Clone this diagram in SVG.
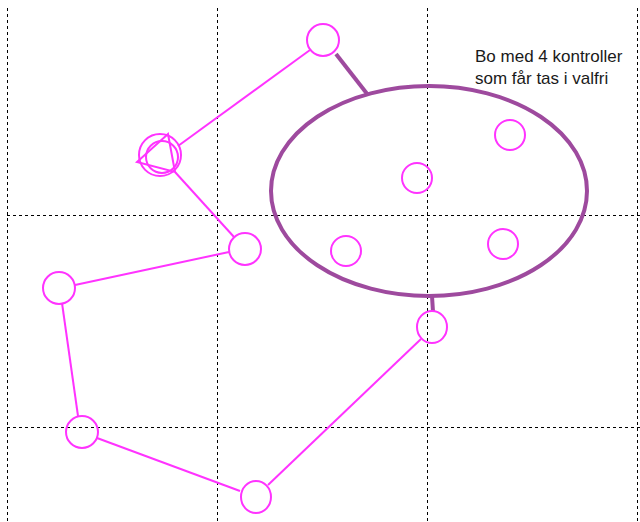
<svg xmlns="http://www.w3.org/2000/svg" width="640" height="522" viewBox="0 0 640 522">
<style>
.grid{stroke:#000;stroke-width:1;stroke-dasharray:3,3;fill:none}
.node{fill:none;stroke:#FF33FF;stroke-width:2}
.leg{stroke:#FF33FF;stroke-width:2;fill:none}
.bo{fill:none;stroke:#9E4A9E;stroke-width:4}
.lbl{font-family:"Liberation Sans",Arial,sans-serif;font-size:17px;fill:#1a1a1a}
</style>
<rect width="640" height="522" fill="#fff"/>
<g id="grid">
<line class="grid" x1="7.5" y1="8" x2="7.5" y2="522"/>
<line class="grid" x1="217.5" y1="8" x2="217.5" y2="522"/>
<line class="grid" x1="427.5" y1="8" x2="427.5" y2="522"/>
<line class="grid" x1="637.5" y1="8" x2="637.5" y2="522"/>
<line class="grid" x1="7" y1="215.5" x2="640" y2="215.5"/>
<line class="grid" x1="7" y1="427.5" x2="640" y2="427.5"/>
</g>
<g id="connectors">
<line class="leg" x1="178" y1="146" x2="310" y2="50"/>
<line class="leg" x1="175" y1="172" x2="234" y2="237"/>
<line class="leg" x1="229" y1="252" x2="75" y2="285"/>
<line class="leg" x1="62" y1="303" x2="78" y2="416"/>
<line class="leg" x1="97" y1="438" x2="240" y2="491"/>
<line class="leg" x1="268" y1="485" x2="421" y2="339"/>
<line class="bo" x1="336" y1="54" x2="368" y2="95"/>
<line class="bo" x1="432" y1="296" x2="433" y2="312"/>
</g>
<g id="start">
<circle class="node" cx="160" cy="155" r="21"/>
<circle class="node" cx="162" cy="157" r="16"/>
<polygon class="node" points="168,134 137,162 175,172"/>
</g>
<g id="n1"><ellipse class="node" cx="323" cy="40" rx="16" ry="16"/></g>
<g id="n2"><ellipse class="node" cx="245" cy="249" rx="16" ry="16"/></g>
<g id="n3"><ellipse class="node" cx="59" cy="288" rx="16" ry="16"/></g>
<g id="n4"><ellipse class="node" cx="82" cy="432" rx="16" ry="16"/></g>
<g id="n5"><ellipse class="node" cx="256" cy="497" rx="15" ry="16"/></g>
<g id="n6"><ellipse class="node" cx="432" cy="327" rx="15" ry="16"/></g>
<g id="bo">
<ellipse class="bo" cx="429" cy="191" rx="158" ry="105"/>
<ellipse class="node" cx="510" cy="135" rx="15" ry="15"/>
<ellipse class="node" cx="417" cy="178" rx="15" ry="15"/>
<ellipse class="node" cx="346" cy="251" rx="15" ry="15"/>
<ellipse class="node" cx="503" cy="244" rx="15" ry="15"/>
</g>
<g id="label">
<text class="lbl" x="475" y="62">Bo med 4 kontroller</text>
<text class="lbl" x="475" y="84">som får tas i valfri</text>
</g>
</svg>
